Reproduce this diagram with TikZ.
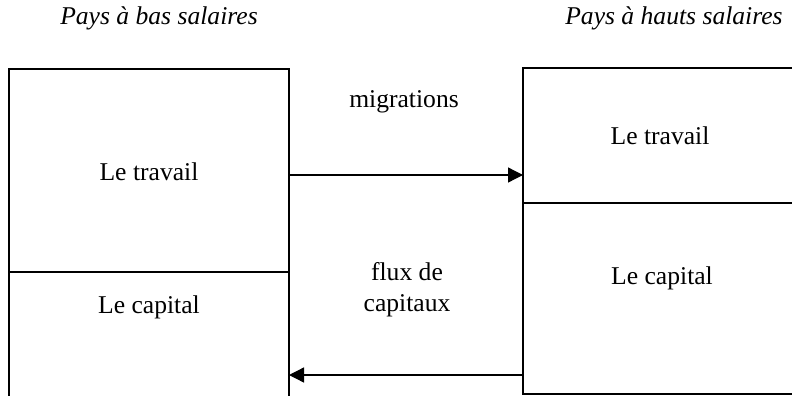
\documentclass[tikz,border=0pt]{standalone}
\usepackage{fontspec}
\setmainfont{Liberation Serif}
\usetikzlibrary{arrows.meta,calc}
\begin{document}
\begin{tikzpicture}[x=0.5pt,y=-0.5pt,
  box/.style={draw=black,line width=0.9pt,inner sep=0pt,outer sep=0pt},
  divl/.style={draw=black,line width=0.9pt},
  lbl/.style={font=\fontsize{12.8}{15.5}\selectfont,inner sep=0pt,align=center},
  ttl/.style={font=\fontsize{12.8}{15.5}\selectfont\itshape,inner sep=0pt},
  arr/.style={line width=0.65pt,-{Triangle[length=7.5pt,width=7.5pt]}}]
\useasboundingbox (0,0) rectangle (792,396);
\clip (0,0) rectangle (792,396);
% left box
\node[box,minimum width=280*0.5pt,minimum height=331*0.5pt] (L) at (149,234.5) {};
\coordinate (Ld1) at ($(L.north west)+(0,203)$);
\coordinate (Ld2) at ($(L.north east)+(0,203)$);
\draw[divl] (Ld1) -- (Ld2);
% right box
\node[box,minimum width=280*0.5pt,minimum height=326*0.5pt] (R) at (663,231) {};
\coordinate (Rd1) at ($(R.north west)+(0,135)$);
\coordinate (Rd2) at ($(R.north east)+(0,135)$);
\draw[divl] (Rd1) -- (Rd2);
% titles
\node[ttl] (t1) at (159,18) {Pays à bas salaires};
\node[ttl] (t2) at (674,18) {Pays à hauts salaires};
% box labels
\node[lbl] (l1) at (149,172) {Le travail};
\node[lbl] (l2) at (149,307) {Le capital};
\node[lbl] (r1) at (660,136) {Le travail};
\node[lbl] (r2) at (662,278) {Le capital};
% flow labels
\node[lbl] (m) at (404,102) {migrations};
\node[lbl] (f) at (407,290) {flux de\\capitaux};
% arrows
\coordinate (a1) at ($(L.north east)+(0,106)$);
\draw[arr] (a1) -- (a1 -| R.west);
\coordinate (b1) at ($(R.south west)+(0,-19)$);
\draw[arr] (b1) -- (b1 -| L.east);
\end{tikzpicture}
\end{document}
